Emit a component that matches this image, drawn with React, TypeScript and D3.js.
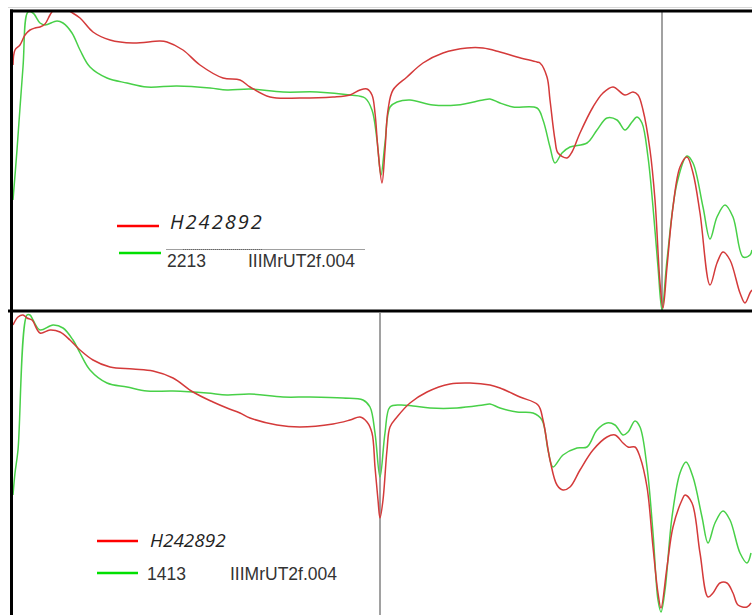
import React from "react";
import * as d3 from "d3";

// Spectrum channel (x) and signal level (y) for the two overlay panels.
type Pt = [number, number];

// Upper panel: H242892 (red) vs 2213 IIIMrUT2f.004 (green)
const upperRed: Pt[] = [
  [1, 246], [3, 261], [8, 266], [13, 276], [18, 281], [23, 283], [28, 284], [33, 287],
  [38, 296], [43, 303], [50, 306], [56, 301], [68, 293], [81, 279], [98, 271], [121, 268],
  [148, 270], [155, 269], [171, 261], [188, 246], [211, 233], [228, 231], [238, 224],
  [258, 214], [288, 213], [321, 214], [338, 216], [348, 221], [355, 222], [360, 216],
  [363, 198], [366, 161], [370, 128], [373, 161], [376, 201], [381, 221], [395, 234],
  [411, 248], [431, 258], [455, 263], [471, 263], [488, 259], [505, 254], [525, 249],
  [528, 248], [535, 234], [538, 211], [543, 171], [546, 158], [555, 153], [560, 159],
  [568, 178], [581, 204], [591, 218], [601, 224], [613, 216], [621, 219], [626, 216],
  [631, 201], [638, 161], [643, 111], [648, 28], [651, 3], [655, 44], [661, 104],
  [668, 144], [675, 154], [681, 138], [688, 98], [698, 26], [705, 48], [711, 59],
  [718, 51], [728, 18], [733, 8], [738, 18], [740, 21],
];
const upperGreen: Pt[] = [
  [1, 111], [5, 161], [11, 244], [16, 299], [21, 298], [28, 288], [33, 286], [45, 290],
  [51, 288], [60, 278], [68, 261], [78, 244], [95, 233], [115, 228], [135, 224], [165, 225],
  [198, 223], [215, 221], [238, 222], [271, 219], [305, 219], [338, 216], [353, 213],
  [360, 201], [365, 171], [369, 136], [373, 168], [378, 204], [385, 209], [398, 211],
  [421, 206], [445, 206], [471, 211], [478, 212], [488, 208], [501, 204], [525, 203],
  [531, 191], [538, 164], [543, 148], [550, 158], [558, 164], [575, 168], [585, 181],
  [595, 193], [605, 191], [613, 181], [620, 189], [625, 194], [630, 188], [636, 154],
  [641, 104], [646, 44], [650, 1], [655, 51], [665, 128], [675, 155], [681, 148],
  [691, 104], [698, 72], [705, 94], [713, 106], [721, 94], [731, 54], [738, 56], [740, 61],
];

// Lower panel: H242892 (red) vs 1413 IIIMrUT2f.004 (green)
const lowerRed: Pt[] = [
  [1, 288], [6, 296], [11, 298], [15, 295], [20, 293], [28, 280], [38, 283], [48, 281],
  [58, 273], [68, 263], [81, 253], [98, 246], [121, 244], [141, 242], [161, 235],
  [181, 221], [201, 211], [215, 205], [228, 200], [238, 195], [265, 188], [288, 186],
  [321, 189], [338, 193], [348, 196], [355, 191], [360, 180], [363, 146], [366, 113],
  [368, 95], [371, 113], [375, 163], [378, 186], [385, 196], [398, 210], [415, 221],
  [438, 229], [458, 230], [478, 228], [488, 225], [508, 216], [526, 208], [531, 193],
  [538, 153], [545, 128], [551, 123], [558, 126], [568, 143], [581, 163], [595, 176],
  [603, 178], [611, 170], [616, 166], [623, 166], [628, 156], [635, 126], [641, 66],
  [646, 20], [649, 5], [655, 46], [661, 86], [670, 113], [673, 118], [680, 110],
  [688, 60], [696, 16], [701, 20], [708, 30], [715, 30], [721, 20], [726, 8], [735, 6],
  [739, 10],
];
const lowerGreen: Pt[] = [
  [1, 118], [3, 140], [6, 163], [15, 298], [18, 298], [21, 293], [28, 283], [41, 288],
  [51, 285], [61, 273], [68, 260], [78, 243], [95, 230], [115, 226], [135, 222],
  [161, 222], [195, 220], [215, 218], [238, 219], [271, 216], [298, 216], [331, 215],
  [351, 213], [358, 206], [363, 180], [368, 136], [373, 180], [378, 206], [388, 208],
  [401, 207], [418, 205], [445, 205], [471, 208], [478, 209], [488, 205], [505, 201],
  [521, 200], [530, 193], [536, 163], [541, 146], [551, 158], [565, 165], [575, 166],
  [585, 183], [595, 190], [603, 188], [611, 178], [616, 181], [623, 192], [628, 186],
  [635, 146], [641, 80], [646, 13], [649, 1], [653, 23], [660, 96], [668, 140],
  [674, 151], [681, 136], [690, 96], [696, 70], [703, 90], [711, 102], [718, 93],
  [728, 60], [735, 50], [739, 60],
];

// Cursor positions (channel) and legend labels
const upperCursor = 650;
const lowerCursor = 368;
const sampleName = "H242892";
const upperRefId = "2213";
const lowerRefId = "1413";
const refFile = "IIIMrUT2f.004";

const W = 752;
const H = 615;
const RED = "#d43a3a";
const GREEN = "#48d048";

const x = d3.scaleLinear().domain([0, 740]).range([12, 752]);
const yUpper = d3.scaleLinear().domain([0, 300]).range([311, 11]);
const yLower = d3.scaleLinear().domain([0, 300]).range([613, 313]);

function pathFor(data: Pt[], y: d3.ScaleLinear<number, number>) {
  return (
    d3
      .line<Pt>()
      .x((d) => x(d[0]))
      .y((d) => y(d[1]))
      .curve(d3.curveCatmullRom.alpha(0.5))(data) || ""
  );
}

function Panel({
  red,
  green,
  y,
  cursor,
  clipId,
  top,
  bottom,
}: {
  red: Pt[];
  green: Pt[];
  y: d3.ScaleLinear<number, number>;
  cursor: number;
  clipId: string;
  top: number;
  bottom: number;
}) {
  return (
    <g>
      <defs>
        <clipPath id={clipId}>
          <rect x={13} y={top} width={W - 13} height={bottom - top} />
        </clipPath>
      </defs>
      <line x1={x(cursor)} x2={x(cursor)} y1={top} y2={bottom} stroke="#8a8a8a" strokeWidth={1.6} />
      <g clipPath={`url(#${clipId})`} fill="none" strokeLinejoin="round">
        <path d={pathFor(green, y)} stroke={GREEN} strokeWidth={1.5} />
        <path d={pathFor(red, y)} stroke={RED} strokeWidth={1.5} />
      </g>
    </g>
  );
}

export default function App() {
  const sans = "'Liberation Sans', Arial, sans-serif";
  const italic = "'Open Sans', 'DejaVu Sans', sans-serif";
  return (
    <svg
      width={W}
      height={H}
      style={{ position: "absolute", left: 0, top: 0, background: "#fff" }}
    >
      <rect width={W} height={H} fill="#fff" />
      <Panel red={upperRed} green={upperGreen} y={yUpper} cursor={upperCursor} clipId="clipU" top={12} bottom={310} />
      <Panel red={lowerRed} green={lowerGreen} y={yLower} cursor={lowerCursor} clipId="clipL" top={313} bottom={H} />

      {/* frames */}
      <line x1={8} x2={W} y1={7.5} y2={7.5} stroke="#d8d8d8" strokeWidth={1} />
      <line x1={10} x2={W} y1={11} y2={11} stroke="#000" strokeWidth={3} />
      <line x1={8} x2={W} y1={311} y2={311} stroke="#000" strokeWidth={3} />
      <line x1={11.5} x2={11.5} y1={9.5} y2={311} stroke="#000" strokeWidth={3} />
      <line x1={11.5} x2={11.5} y1={311} y2={H} stroke="#000" strokeWidth={3} />

      {/* upper legend */}
      <line x1={117} x2={159} y1={226} y2={226} stroke="#ff0000" strokeWidth={2.5} />
      <text x={170} y={229} fontFamily={italic} fontStyle="italic" fontSize={20} letterSpacing={2} fill="#222">
        {sampleName}
      </text>
      <line x1={119} x2={161} y1={253} y2={253} stroke="#00e000" strokeWidth={2.5} />
      <line x1={166} x2={365} y1={249.5} y2={249.5} stroke="#a0a0a0" strokeWidth={1} />
      <line x1={183} x2={262} y1={249.5} y2={249.5} stroke="#666" strokeWidth={1} strokeDasharray="1 1" />
      <text x={167} y={267} fontFamily={sans} fontSize={17.5} fill="#333">
        {upperRefId}
      </text>
      <text x={248} y={267} fontFamily={sans} fontSize={17.5} fill="#333">
        {refFile}
      </text>

      {/* lower legend */}
      <line x1={97} x2={138} y1={541} y2={541} stroke="#ff0000" strokeWidth={2.5} />
      <text x={150} y={547} fontFamily={italic} fontStyle="italic" fontSize={19} fill="#222">
        {sampleName}
      </text>
      <line x1={97} x2={138} y1={573} y2={573} stroke="#00e000" strokeWidth={2.5} />
      <text x={147} y={580} fontFamily={sans} fontSize={17.5} fill="#333">
        {lowerRefId}
      </text>
      <text x={230} y={580} fontFamily={sans} fontSize={17.5} fill="#333">
        {refFile}
      </text>
    </svg>
  );
}
